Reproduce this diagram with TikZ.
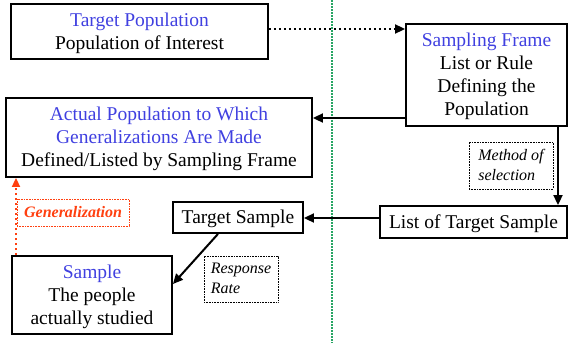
\documentclass[tikz,border=0pt]{standalone}
\usepackage{fontspec}
\setmainfont{Liberation Serif}
\usetikzlibrary{arrows.meta}
\definecolor{tblue}{RGB}{64,64,224}
\definecolor{tred}{RGB}{255,64,16}
\definecolor{tgreen}{RGB}{40,165,100}
\newcommand\bs{\rule[-5.5pt]{0pt}{23pt}}
\newcommand\ls{\rule[-5.5pt]{0pt}{20pt}}
\tikzset{
  box/.style={draw, line width=1.9pt, align=center, inner sep=0pt, font=\fontsize{19.5}{23}\selectfont},
  lbl/.style={draw, dash pattern=on 0.8pt off 0.8pt, line width=0.7pt, align=left, inner sep=0pt, font=\fontsize{16}{20}\selectfont\itshape},
  arr/.style={line width=2pt, -{Triangle[length=10pt,width=9pt]}},
  dotarr/.style={arr, dash pattern=on 2.5pt off 2.5pt},
}
\begin{document}
\begin{tikzpicture}[x=1pt,y=-1pt]
\useasboundingbox (0,0) rectangle (568,343);
\draw[tgreen, line width=1.2pt, dash pattern=on 1.5pt off 1.5pt] (332,0) -- (332,343);
\node[box, minimum width=257pt, minimum height=55pt] (tp) at (139.5,31.5)
  {\bs\textcolor{tblue}{Target Population}\\\bs Population of Interest};
\node[box, minimum width=161pt, minimum height=102pt] (sf) at (486.5,75)
  {\bs\textcolor{tblue}{Sampling Frame}\\\bs List or Rule\\\bs Defining the\\\bs Population};
\node[box, minimum width=306pt, minimum height=79pt] (ap) at (159,137.5)
  {\bs\textcolor{tblue}{Actual Population to Which}\\\bs\textcolor{tblue}{Generalizations Are Made}\\\bs Defined/Listed by Sampling Frame};
\node[lbl, minimum width=84pt, minimum height=47pt] (ms) at (511,165.5)
  {\ls Method of\\\ls selection};
\node[box, minimum width=187pt, minimum height=32pt] (lst) at (473.5,222)
  {\bs List of Target Sample};
\node[box, minimum width=130pt, minimum height=31pt] (ts) at (238,217.5)
  {\bs Target Sample};
\node[lbl, minimum width=74pt, minimum height=46pt] (rr) at (241,279)
  {\ls Response\\\ls Rate};
\node[box, minimum width=160pt, minimum height=78pt] (sa) at (92,295)
  {\bs\textcolor{tblue}{Sample}\\\bs The people\\\bs actually studied};
\node[lbl, draw=tred, text=tred, minimum width=112pt, minimum height=27pt, font=\fontsize{16}{20}\selectfont\bfseries\itshape] (ge) at (73,212.5)
  {\rule[-5pt]{0pt}{19pt}Generalization};
% connectors
\coordinate (c1) at (tp.east |- 0,29);
\draw[dotarr] (c1) -- (c1 -| sf.west);
\coordinate (c2) at (sf.west |- 0,118);
\draw[arr] (c2) -- (c2 -| ap.east);
\coordinate (c3) at (sf.south -| 558,0);
\draw[arr] (c3) -- (c3 |- lst.north);
\coordinate (c4) at (lst.west |- 0,218);
\draw[arr] (c4) -- (c4 -| ts.east);
\coordinate (c5) at (ts.south -| 218,0);
\coordinate (c6) at (sa.east |- 0,284);
\draw[arr] (c5) -- (c6);
\coordinate (c7) at (sa.north -| 16,0);
\draw[dotarr, tred, -{Triangle[length=9pt,width=8pt]}] (c7) -- (c7 |- ap.south);
\end{tikzpicture}
\end{document}
